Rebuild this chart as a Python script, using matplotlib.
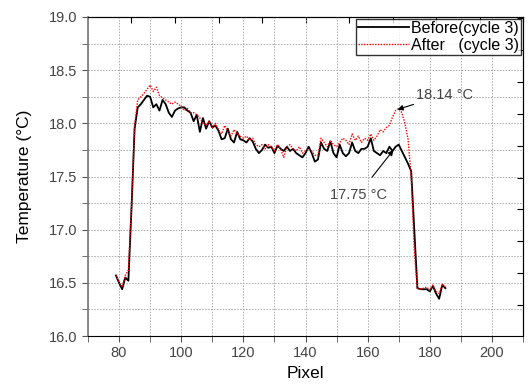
import numpy as np
import matplotlib.pyplot as plt
from matplotlib.ticker import MultipleLocator, FixedLocator

plt.rcParams['font.family'] = ['Liberation Sans', 'DejaVu Sans']

pixel = np.arange(79, 186)

before = [16.57, 16.50, 16.44, 16.55, 16.52, 17.20, 17.95, 18.15, 18.18, 18.22,
          18.26, 18.25, 18.15, 18.18, 18.12, 18.22, 18.18, 18.10, 18.06, 18.12,
          18.14, 18.15, 18.15, 18.12, 18.10, 18.02, 18.08, 17.92, 18.05, 17.95,
          18.02, 17.96, 17.98, 17.93, 17.85, 17.86, 17.95, 17.85, 17.82, 17.92,
          17.85, 17.84, 17.82, 17.86, 17.83, 17.76, 17.72, 17.75, 17.80, 17.77,
          17.78, 17.72, 17.79, 17.76, 17.74, 17.78, 17.74, 17.76, 17.72, 17.70,
          17.68, 17.72, 17.78, 17.72, 17.64, 17.66, 17.82, 17.76, 17.74, 17.83,
          17.72, 17.68, 17.80, 17.72, 17.69, 17.72, 17.82, 17.74, 17.72, 17.76,
          17.76, 17.78, 17.86, 17.74, 17.72, 17.70, 17.74, 17.72, 17.78, 17.74,
          17.78, 17.80, 17.74, 17.68, 17.62, 17.55, 17.00, 16.45, 16.44, 16.44,
          16.44, 16.42, 16.47, 16.40, 16.35, 16.48, 16.45]

after = [16.57, 16.50, 16.46, 16.57, 16.62, 17.20, 17.98, 18.22, 18.25, 18.28,
         18.32, 18.36, 18.30, 18.34, 18.26, 18.24, 18.22, 18.20, 18.18, 18.20,
         18.18, 18.16, 18.12, 18.14, 18.10, 18.10, 18.08, 18.05, 18.00, 17.98,
         18.02, 17.96, 18.00, 17.94, 17.90, 17.98, 17.92, 17.88, 17.94, 17.90,
         17.88, 17.86, 17.88, 17.84, 17.86, 17.80, 17.78, 17.80, 17.76, 17.80,
         17.78, 17.74, 17.80, 17.76, 17.68, 17.78, 17.80, 17.76, 17.74, 17.78,
         17.72, 17.74, 17.76, 17.74, 17.70, 17.70, 17.86, 17.82, 17.78, 17.84,
         17.80, 17.78, 17.82, 17.86, 17.84, 17.80, 17.90, 17.84, 17.88, 17.82,
         17.86, 17.84, 17.90, 17.84, 17.88, 17.94, 17.92, 17.96, 17.98, 18.06,
         18.12, 18.14, 18.10, 18.00, 17.85, 17.50, 16.80, 16.45, 16.44, 16.45,
         16.46, 16.43, 16.48, 16.42, 16.40, 16.49, 16.46]

fig = plt.figure(figsize=(5.31, 3.89), dpi=100)
ax = fig.add_axes([0.1657, 0.1362, 0.8193, 0.8201])

ax.plot(pixel, before, color='black', lw=1.3, label='Before(cycle 3)')
ax.plot(pixel, after, color='red', lw=1.0, ls=(0, (1, 1)), label='After   (cycle 3)')

ax.set_xlim(70, 210)
ax.set_ylim(16.0, 19.0)
ax.xaxis.set_major_locator(MultipleLocator(20))
ax.xaxis.set_minor_locator(MultipleLocator(10))
ax.yaxis.set_major_locator(MultipleLocator(0.5))
ax.yaxis.set_minor_locator(MultipleLocator(0.25))
ax.yaxis.set_major_formatter(plt.FormatStrFormatter('%.1f'))
ax.grid(True, which='both', color='#aaaaaa', ls=(0, (1.5, 1.5)), lw=0.7)
ax.tick_params(which='both', direction='out', length=4, labelsize=10.5,
               labelcolor='#444444', color='#555555')

for s in ['top', 'right', 'bottom']:
    ax.spines[s].set_color('black')
ax.spines['left'].set_color('#777777')
ax.spines['left'].set_linewidth(1.2)

# secondary ticks on top and right
top = ax.secondary_xaxis('top')
top.xaxis.set_major_locator(FixedLocator(np.arange(84, 211, 14)))
top.tick_params(direction='in', length=4, labeltop=False)
right = ax.secondary_yaxis('right')
right.yaxis.set_major_locator(FixedLocator(np.arange(16.29, 19.0, 0.3)))
right.tick_params(direction='in', length=4, labelright=False)

ax.set_xlabel('Pixel', fontsize=12.5, labelpad=4)
ax.set_ylabel('Temperature (°C)', fontsize=12.5, labelpad=12)

ax.annotate('18.14 °C', xy=(169.6, 18.13), xytext=(175.5, 18.27),
            fontsize=10.5, color='#444444', va='center',
            arrowprops=dict(arrowstyle='-|>', color='black', lw=0.8,
                            mutation_scale=8, shrinkA=0, shrinkB=0))
ax.annotate('17.75 °C', xy=(168.3, 17.75), xytext=(157, 17.33),
            fontsize=10.5, color='#444444', ha='center', va='center',
            arrowprops=dict(arrowstyle='-|>', color='black', lw=0.8,
                            mutation_scale=8, shrinkA=7, shrinkB=0))

leg = ax.legend(loc='upper right', fontsize=11.5, frameon=True, fancybox=False,
                borderpad=0.15, handlelength=3.2, handletextpad=0.1,
                labelspacing=0.1, borderaxespad=0.1)
leg.get_frame().set_edgecolor('black')
leg.get_frame().set_linewidth(1.0)

fig.savefig('out.png', dpi=100)
